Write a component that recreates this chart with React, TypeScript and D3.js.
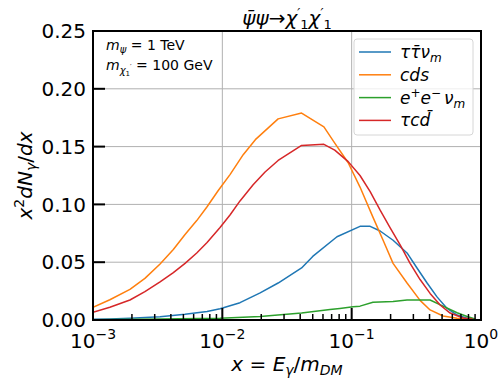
import * as d3 from 'd3';

// ---- data ----
const seriesNames = ['tau', 'cds', 'ee', 'tcd'];
const seriesColors = ['#1f77b4', '#ff7f0e', '#2ca02c', '#d62728'];

const tauX = [0.001, 0.00135, 0.00193, 0.0033, 0.00515, 0.00762, 0.0096, 0.0137, 0.0196, 0.027, 0.041, 0.05, 0.077, 0.116, 0.139, 0.166, 0.209, 0.268, 0.32, 0.383, 0.457, 0.547, 0.653, 0.781, 0.9];
const tauY = [0.0006, 0.0009, 0.0015, 0.0029, 0.0049, 0.0074, 0.0098, 0.015, 0.0235, 0.032, 0.045, 0.055, 0.072, 0.081, 0.081, 0.077, 0.069, 0.058, 0.045, 0.032, 0.02, 0.01, 0.0043, 0.0015, 0.0006];

const cdsX = [0.001, 0.00135, 0.00193, 0.00252, 0.0033, 0.00418, 0.00515, 0.00634, 0.00762, 0.0093, 0.0115, 0.0145, 0.018, 0.027, 0.041, 0.061, 0.074, 0.094, 0.116, 0.146, 0.175, 0.209, 0.268, 0.338, 0.404, 0.509, 0.653, 0.869];
const cdsY = [0.011, 0.0175, 0.0265, 0.036, 0.0485, 0.061, 0.074, 0.086, 0.098, 0.112, 0.126, 0.143, 0.156, 0.174, 0.179, 0.167, 0.153, 0.136, 0.115, 0.089, 0.069, 0.049, 0.032, 0.017, 0.0087, 0.0035, 0.0015, 0.0006];

const eeX = [0.001, 0.0033, 0.0096, 0.0196, 0.041, 0.068, 0.081, 0.1025, 0.116, 0.146, 0.209, 0.268, 0.404, 0.509, 0.653, 0.781, 0.9];
const eeY = [0.0003, 0.0008, 0.0015, 0.003, 0.006, 0.009, 0.01, 0.0115, 0.012, 0.0153, 0.016, 0.0173, 0.0173, 0.012, 0.0063, 0.003, 0.0009];

const tcdX = [0.001, 0.00135, 0.00193, 0.00252, 0.0033, 0.00418, 0.00515, 0.00634, 0.00762, 0.0096, 0.0115, 0.0137, 0.0173, 0.0214, 0.027, 0.041, 0.061, 0.074, 0.094, 0.116, 0.139, 0.166, 0.198, 0.237, 0.283, 0.338, 0.404, 0.483, 0.577, 0.727, 0.869];
const tcdY = [0.0067, 0.011, 0.0173, 0.0245, 0.033, 0.041, 0.049, 0.058, 0.067, 0.08, 0.091, 0.103, 0.117, 0.128, 0.138, 0.151, 0.152, 0.147, 0.137, 0.125, 0.111, 0.095, 0.08, 0.065, 0.049, 0.035, 0.023, 0.013, 0.006, 0.0017, 0.0006];

const yTicks = [0, 0.05, 0.1, 0.15, 0.2, 0.25];
const xDecades = [-3, -2, -1, 0];

const W = 502;
const H = 378;
const margin = { top: 31, right: 21, bottom: 58, left: 93 };
const FONT = 'DejaVu Sans, sans-serif';

export default function App() {
  const x = d3.scaleLog().domain([1e-3, 1]).range([margin.left, W - margin.right]);
  const y = d3.scaleLinear().domain([0, 0.25]).range([H - margin.bottom, margin.top]);
  const [x0, x1] = x.range();
  const [yb, yt] = y.range();

  const series = [
    { xs: tauX, ys: tauY },
    { xs: cdsX, ys: cdsY },
    { xs: eeX, ys: eeY },
    { xs: tcdX, ys: tcdY },
  ];

  const line = d3.line<[number, number]>()
    .x(d => x(d[0]))
    .y(d => y(d[1]));

  // minor ticks 2..9 in each decade
  const minor: number[] = [];
  for (let e = -3; e < 0; e++) {
    for (let m = 2; m <= 9; m++) minor.push(m * Math.pow(10, e));
  }

  const legendLabels = [
    <>ττ̄ν<tspan dy={4} fontSize={12}>m</tspan></>,
    <>cds</>,
    <>e<tspan dy={-7} fontSize={12}>+</tspan><tspan dy={7}>e</tspan><tspan dy={-7} fontSize={12}>−</tspan><tspan dy={7} dx={3}>ν</tspan><tspan dy={4} fontSize={12}>m</tspan></>,
    <>τcd̄</>,
  ];

  return (
    <svg width={W} height={H} style={{ position: 'absolute', left: 0, top: 0, background: '#fff' }} fontFamily={FONT}>
      <defs>
        <clipPath id="plot-clip">
          <rect x={x0} y={yt} width={x1 - x0} height={yb - yt} />
        </clipPath>
      </defs>

      {/* grid */}
      <g stroke="#b0b0b0" strokeWidth={1}>
        {yTicks.map(t => (
          <line key={'gy' + t} x1={x0} x2={x1} y1={y(t)} y2={y(t)} />
        ))}
        {xDecades.map(e => (
          <line key={'gx' + e} x1={x(Math.pow(10, e))} x2={x(Math.pow(10, e))} y1={yb} y2={yt} />
        ))}
      </g>

      {/* curves */}
      <g clipPath="url(#plot-clip)" fill="none" strokeWidth={1.5} strokeLinejoin="round">
        {series.map((s, i) => (
          <path
            key={seriesNames[i]}
            d={line(s.xs.map((v, j) => [v, s.ys[j]] as [number, number])) || ''}
            stroke={seriesColors[i]}
          />
        ))}
      </g>

      {/* ticks (inward) */}
      <g stroke="#000">
        {yTicks.map(t => (
          <line key={'ty' + t} x1={x0} x2={x0 + 12} y1={y(t)} y2={y(t)} strokeWidth={2} />
        ))}
        {xDecades.map(e => (
          <line key={'tx' + e} x1={x(Math.pow(10, e))} x2={x(Math.pow(10, e))} y1={yb} y2={yb - 12} strokeWidth={2} />
        ))}
        {minor.map(v => (
          <line key={'tm' + v} x1={x(v)} x2={x(v)} y1={yb} y2={yb - 6} strokeWidth={1.5} />
        ))}
      </g>

      {/* frame */}
      <rect x={x0} y={yt} width={x1 - x0} height={yb - yt} fill="none" stroke="#000" strokeWidth={2} />

      {/* y tick labels */}
      <g fontSize={20} textAnchor="end" fill="#000">
        {yTicks.map(t => (
          <text key={'ly' + t} x={x0 - 7} y={y(t)} dy="0.36em">{d3.format('.2f')(t)}</text>
        ))}
      </g>

      {/* x tick labels */}
      <g fontSize={20} textAnchor="middle" fill="#000">
        {xDecades.map(e => (
          <text key={'lx' + e} x={x(Math.pow(10, e))} y={yb + 28}>
            10<tspan dy={-9} fontSize={14}>{e === 0 ? '0' : '−' + Math.abs(e)}</tspan>
          </text>
        ))}
      </g>

      {/* axis labels */}
      <text x={(x0 + x1) / 2} y={H - 7} textAnchor="middle" fontSize={20} fill="#000">
        <tspan fontStyle="italic">x</tspan> = <tspan fontStyle="italic">E</tspan>
        <tspan dy={4} fontSize={14} fontStyle="italic">γ</tspan>
        <tspan dy={-4}>/</tspan><tspan fontStyle="italic">m</tspan>
        <tspan dy={4} fontSize={14} fontStyle="italic">DM</tspan>
      </text>
      <text transform={`translate(32,${(yt + yb) / 2}) rotate(-90)`} textAnchor="middle" fontSize={20} fill="#000">
        <tspan fontStyle="italic">x</tspan><tspan dy={-8} fontSize={14}>2</tspan>
        <tspan dy={8} fontStyle="italic">dN</tspan><tspan dy={4} fontSize={14} fontStyle="italic">γ</tspan>
        <tspan dy={-4}>/</tspan><tspan fontStyle="italic">dx</tspan>
      </text>

      {/* title */}
      <text x={(x0 + x1) / 2} y={yt - 6} textAnchor="middle" fontSize={20} fontStyle="italic" fill="#000">
        ψ̄ψ<tspan fontStyle="normal">→</tspan>χ<tspan dy={-8} fontSize={13}>′</tspan><tspan dy={12} fontSize={13} fontStyle="normal">1</tspan>
        <tspan dy={-4}>χ</tspan><tspan dy={-8} fontSize={13}>′</tspan><tspan dy={12} fontSize={13} fontStyle="normal">1</tspan>
      </text>

      {/* annotation */}
      <g fontSize={14} fill="#000">
        <text x={x0 + 13} y={yt + 19}>
          <tspan fontStyle="italic">m</tspan><tspan dy={3} fontSize={10} fontStyle="italic">ψ</tspan>
          <tspan dy={-3}> = 1 TeV</tspan>
        </text>
        <text x={x0 + 13} y={yt + 39}>
          <tspan fontStyle="italic">m</tspan><tspan dy={4} fontSize={10} fontStyle="italic">χ</tspan>
          <tspan dy={2} fontSize={7}>1</tspan><tspan dy={-7} fontSize={7}>′</tspan>
          <tspan dy={1}> = 100 GeV</tspan>
        </text>
      </g>

      {/* legend */}
      <g>
        <rect x={354} y={39} width={119} height={96} rx={3} fill="#fff" fillOpacity={0.8} stroke="#d6d6d6" />
        {seriesNames.map((n, i) => (
          <g key={'lg' + n}>
            <line x1={359} x2={391} y1={52 + i * 22.8} y2={52 + i * 22.8} stroke={seriesColors[i]} strokeWidth={1.5} />
            <text x={400} y={52 + i * 22.8} dy="0.35em" fontSize={17} fontStyle="italic" fill="#000">
              {legendLabels[i]}
            </text>
          </g>
        ))}
      </g>
    </svg>
  );
}
